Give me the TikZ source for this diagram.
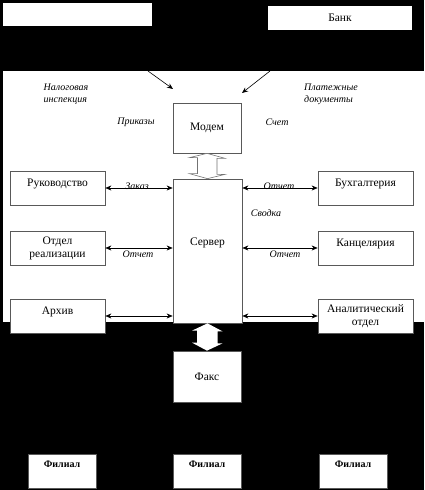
\documentclass[tikz,border=0pt]{standalone}
\usepackage{fontspec}
\setmainfont{Liberation Serif}
\usetikzlibrary{arrows.meta}

\tikzset{
  unit/.style={draw=black!65, fill=white, line width=0.7pt, rectangle, inner sep=1pt, align=center},
  sidebox/.style={unit, minimum width=95, minimum height=34},
  link/.style={<->, >={Stealth[length=6pt,width=5pt]}, line width=0.6pt},
  feed/.style={->, >={Stealth[length=6pt,width=5pt]}, line width=0.6pt},
  note/.style={font=\itshape, align=left, inner sep=0pt},
  hollow/.style={draw=black!55, fill=white, line width=0.6pt},
}

\begin{document}
\begin{tikzpicture}[x=1pt, y=-1pt, font=\fontsize{11.5}{13}\selectfont]
% Background
\fill[black] (0,0) rectangle (424,490);
\fill[white] (3,71) rectangle (424,322);

% Top boxes
\node[fill=white, minimum width=149, minimum height=23, inner sep=0pt] (inspect) at (77.5,14.5) {};
\node[fill=white, minimum width=144, minimum height=24, inner sep=0pt] (bank) at (340,18) {Банк};

% Centre column
\node[unit, minimum width=68, minimum height=50] (modem) at (207,128) {Модем};
\node[unit, minimum width=69, minimum height=144, text depth=18pt] (server) at (207.5,251) {Сервер};
\node[unit, minimum width=68, minimum height=51] (fax) at (207,376.5) {Факс};

% Left departments
\node[sidebox, text depth=10pt] (ruk) at (57.5,188) {Руководство};
\node[sidebox] (otdel) at (57.5,248) {Отдел\\реализации};
\node[sidebox, text depth=10pt] (archive) at (57.5,316) {Архив};

% Right departments
\node[sidebox, text depth=10pt] (buh) at (365.5,188) {Бухгалтерия};
\node[sidebox, text depth=10pt] (kanc) at (365.5,248) {Канцелярия};
\node[sidebox] (anal) at (365.5,316) {Аналитический\\отдел};

% Branches
\node[unit, minimum width=68, minimum height=34, text depth=14pt, font=\bfseries] (fil1) at (62,471) {Филиал};
\node[unit, minimum width=68, minimum height=34, text depth=14pt, font=\bfseries] (fil2) at (207,471) {Филиал};
\node[unit, minimum width=68, minimum height=34, text depth=14pt, font=\bfseries] (fil3) at (353,471) {Филиал};

% Links to the server
\draw[link] (ruk.east) -- (ruk.east -| server.west);
\draw[link] (otdel.east) -- (otdel.east -| server.west);
\draw[link] (archive.east) -- (archive.east -| server.west);
\draw[link] (buh.west) -- (buh.west -| server.east);
\draw[link] (kanc.west) -- (kanc.west -| server.east);
\draw[link] (anal.west) -- (anal.west -| server.east);

% Incoming from tax office and bank
\coordinate (inspectOut) at (148,71);
\coordinate (inspectIn) at (173,89);
\coordinate (bankOut) at (270,71);
\coordinate (bankIn) at (242,93);
\draw[feed] (inspectOut) -- (inspectIn);
\draw[feed] (bankOut) -- (bankIn);

% Modem <-> server
\draw[hollow] (modem.south) -- ++(18,5) -- ++(-8,0) -- ++(0,16) -- ++(8,0) -- (server.north)
  -- ++(-18,-5) -- ++(8,0) -- ++(0,-16) -- ++(-8,0) -- cycle;
% Server <-> fax
\fill[white] (server.south) -- ++(15,8) -- ++(-5,0) -- ++(0,12) -- ++(5,0) -- (fax.north)
  -- ++(-15,-8) -- ++(5,0) -- ++(0,-12) -- ++(-5,0) -- cycle;

% Labels
\node[note] (lblNalog) at (66,94) {Налоговая\\инспекция};
\node[note] (lblPlat) at (331,94) {Платежные\\документы};
\node[note] (lblPrik) at (136,122) {Приказы};
\node[note] (lblSchet) at (277,122) {Счет};
\node[note] (lblZakaz) at (137,186) {Заказ};
\node[note] (lblOtch1) at (279,186) {Отчет};
\node[note] (lblSvod) at (266,213) {Сводка};
\node[note] (lblOtch2) at (138,254) {Отчет};
\node[note] (lblOtch3) at (285,254) {Отчет};
\end{tikzpicture}
\end{document}
